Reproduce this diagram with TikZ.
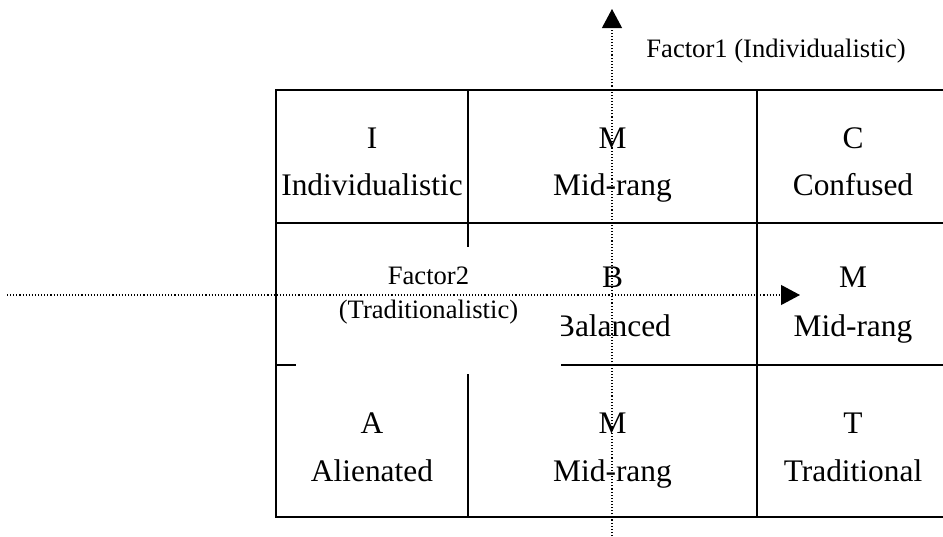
\documentclass[tikz,border=0pt]{standalone}
\usepackage{fontspec}
\setmainfont{Liberation Serif}
\usetikzlibrary{arrows.meta}
\tikzset{
  every picture/.style={x=0.5pt, y=-0.5pt},
  grid/.style={line width=1pt},
  axis/.style={line width=0.55pt, dash pattern=on 0.55pt off 1pt, -{Triangle[length=9.5pt, width=10pt]}},
  cell/.style={font=\fontsize{15.7}{19}\selectfont, anchor=base, inner sep=0pt},
  axislabel/.style={font=\fontsize{13.3}{17}\selectfont, align=center, inner sep=0pt},
  cover/.style={fill=white},
}

\begin{document}
\begin{tikzpicture}
  \useasboundingbox (0,0) rectangle (943,536);
  % the nine cells
  \draw[grid] (276,90) rectangle (960,517);
  \draw[grid] (276,223) -- (960,223);
  \draw[grid] (276,365) -- (960,365);
  \draw[grid] (468,90) -- (468,517);
  \draw[grid] (757,90) -- (757,517);
  \node[cell] (iL) at (372,148) {I};
  \node[cell] (iW) at (372,195) {Individualistic};
  \node[cell] (m1L) at (612.5,148) {M};
  \node[cell] (m1W) at (612.5,195) {Mid-rang};
  \node[cell] (cL) at (853,148) {C};
  \node[cell] (cW) at (853,195) {Confused};
  \node[cell] (bL) at (612.5,287) {B};
  \node[cell] (bW) at (612.5,336) {Balanced};
  \node[cell] (m2L) at (853,287) {M};
  \node[cell] (m2W) at (853,336) {Mid-rang};
  \node[cell] (aL) at (372,433) {A};
  \node[cell] (aW) at (372,481) {Alienated};
  \node[cell] (m3L) at (612.5,433) {M};
  \node[cell] (m3W) at (612.5,481) {Mid-rang};
  \node[cell] (tL) at (853,433) {T};
  \node[cell] (tW) at (853,481) {Traditional};
  % label box for factor 2
  \fill[cover] (296,247) rectangle (561,374);
  \node[axislabel] (f2) at (428.5,296) {Factor2\\(Traditionalistic)};
  \node[axislabel, anchor=base west] (f1) at (646,57) {Factor1 (Individualistic)};
  % axes
  \coordinate (ybot) at (612,536);
  \coordinate (ytop) at (612,9);
  \coordinate (xleft) at (7,295);
  \coordinate (xright) at (800,295);
  \draw[axis] (ybot) -- (ytop);
  \draw[axis] (xleft) -- (xright);
\end{tikzpicture}
\end{document}
